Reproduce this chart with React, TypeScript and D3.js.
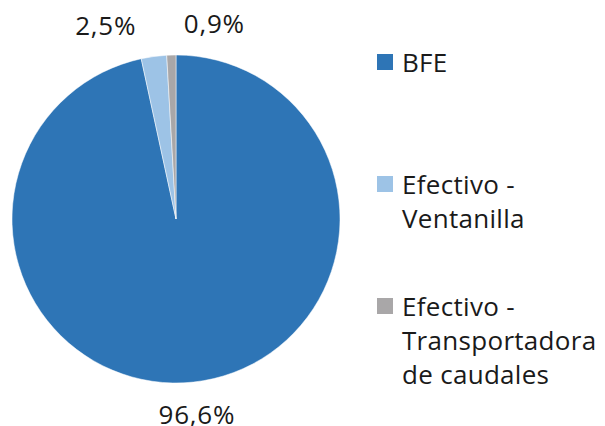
import React from "react";
import * as d3 from "d3";

const categories = ["BFE", "Efectivo - Ventanilla", "Efectivo - Transportadora de caudales"];
const legendLines = [["BFE"], ["Efectivo -", "Ventanilla"], ["Efectivo -", "Transportadora", "de caudales"]];
const shares = [96.6, 2.5, 0.9];
const labels = ["96,6%", "2,5%", "0,9%"];
const colors = ["#2E75B6", "#9DC3E6", "#A9A7A8"];

const W = 605;
const H = 426;
const cx = 176;
const cy = 219;
const R = 164;
const FONT = "'Open Sans', 'DejaVu Sans', sans-serif";
const FS = 26;

export default function App() {
  const pie = d3.pie<number>().sort(null).value(d => d);
  const arcs = pie(shares);
  const arc = d3.arc<d3.PieArcDatum<number>>().innerRadius(0).outerRadius(R);
  const labelArc = d3.arc<d3.PieArcDatum<number>>().innerRadius(R + 32).outerRadius(R + 32);

  // label spots, then push overlapping ones apart
  const spots = arcs.map((a, i) => {
    const [x, y] = labelArc.centroid(a);
    return { i, x: x + cx, y: y + cy, w: labels[i].length * FS * 0.64 };
  });
  const byX = [...spots].sort((a, b) => a.x - b.x);
  for (let k = 1; k < byX.length; k++) {
    const p = byX[k - 1], q = byX[k];
    if (Math.abs(p.y - q.y) > FS) continue;
    const need = (p.w + q.w) / 2 + 42;
    const gap = q.x - p.x;
    if (gap < need) {
      const d = (need - gap) / 2;
      p.x -= d;
      q.x += d;
    }
  }

  const legendY = d3.scalePoint<string>().domain(categories).range([62, 306]);

  return (
    <svg width={W} height={H} style={{ position: "absolute", left: 0, top: 0 }}>
      <rect width={W} height={H} fill="#fff" />
      <g transform={`translate(${cx},${cy})`}>
        {arcs.map((a, i) => (
          <path key={i} d={arc(a) || ""} fill={colors[i]} stroke="#fff" strokeWidth={0.5} />
        ))}
      </g>
      {spots.map(s => (
        <text key={s.i} x={s.x} y={s.y} textAnchor="middle" dominantBaseline="central"
          fontFamily={FONT} fontSize={FS} letterSpacing={0.8} fill="#1a1a1a">{labels[s.i]}</text>
      ))}
      {categories.map((c, i) => {
        const y = legendY(c)!;
        return (
          <g key={c}>
            <rect x={377} y={y - 8} width={16} height={16} fill={colors[i]} />
            {legendLines[i].map((line, j) => (
              <text key={j} x={402} y={y + 10 + j * 34} fontFamily={FONT} fontSize={FS}
                letterSpacing={0.3} fill="#1a1a1a">{line}</text>
            ))}
          </g>
        );
      })}
    </svg>
  );
}
